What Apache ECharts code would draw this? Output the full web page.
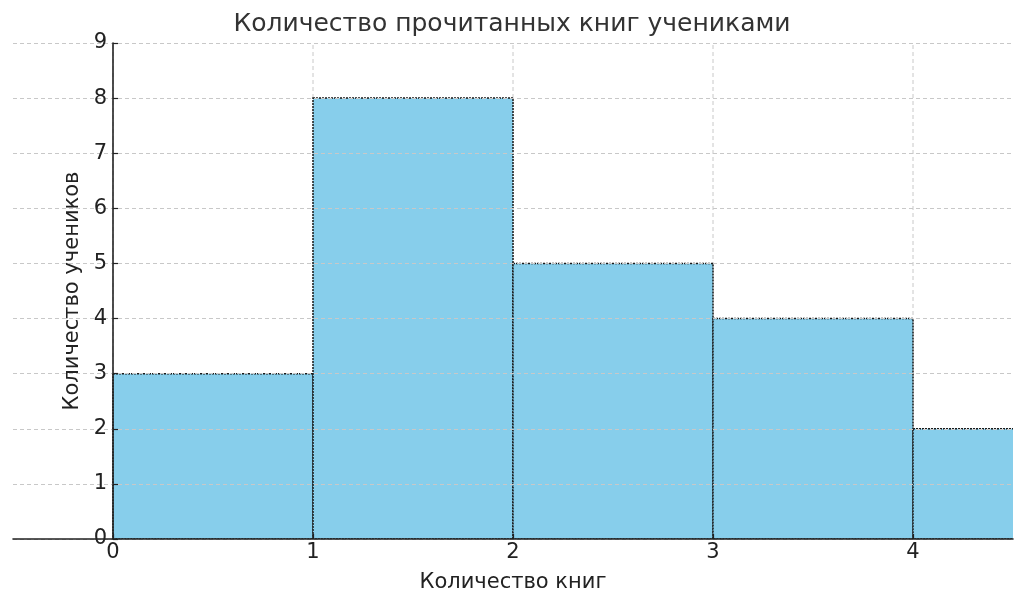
<!DOCTYPE html>
<html><head><meta charset="utf-8">
<script src="https://cdn.jsdelivr.net/npm/echarts@6/dist/echarts.min.js"></script>
<style>html,body{margin:0;padding:0;background:#fff}#c{width:1024px;height:608px}</style>
</head><body><div id="c"></div>
<script>
const binEdges = [0, 1, 2, 3, 4, 5];
const counts = [3, 8, 5, 4, 2];
const xTicks = [0, 1, 2, 3, 4];
const yTicks = [0, 1, 2, 3, 4, 5, 6, 7, 8, 9];
const titleText = 'Количество прочитанных книг учениками';
const xName = 'Количество книг';
const yName = 'Количество учеников';

const barData = counts.map((c, i) => [binEdges[i], binEdges[i + 1], c]);
const gridData = xTicks.map(v => [v]);
const font = 'DejaVu Sans';
const chart = echarts.init(document.getElementById('c'));
chart.setOption({
  animation: false,
  title: { text: titleText, left: 'center', top: 7, textStyle: { fontFamily: font, fontSize: 25, fontWeight: 'normal', color: '#333' } },
  grid: { left: 13, right: 11, top: 43, bottom: 69, outerBoundsMode: 'none', containLabel: false },
  xAxis: {
    type: 'value', min: -0.5, max: 4.5, z: 5,
    name: xName, nameLocation: 'middle', nameGap: 33,
    nameTextStyle: { fontFamily: font, fontSize: 21, color: '#222', verticalAlign: 'top' },
    axisLine: { onZero: false, lineStyle: { color: '#222', width: 1.6 } },
    axisTick: { show: true, inside: true, customValues: xTicks, length: 5, lineStyle: { color: '#222', width: 1.2 } },
    axisLabel: { customValues: xTicks, fontFamily: font, fontSize: 21, color: '#222', margin: 3 },
    splitLine: { show: false }
  },
  yAxis: {
    type: 'value', min: yTicks[0], max: yTicks[yTicks.length - 1], interval: 1, z: 5,
    offset: -100,
    name: yName, nameLocation: 'middle', nameGap: 26, nameRotate: 90,
    nameTextStyle: { fontFamily: font, fontSize: 21, color: '#222' },
    axisLine: { show: true, onZero: false, lineStyle: { color: '#222', width: 1.6 } },
    axisTick: { show: true, inside: true, length: 5, lineStyle: { color: '#222', width: 1.2 } },
    axisLabel: { fontFamily: font, fontSize: 21, color: '#222', margin: 6 },
    splitLine: { show: true, lineStyle: { color: '#c8c8c8', type: [4, 3], width: 1 } }
  },
  series: [
    {
      type: 'custom', silent: true, clip: true, z: 1,
      data: gridData,
      renderItem: function (params, api) {
        const p0 = api.coord([api.value(0), yTicks[0]]);
        const p1 = api.coord([api.value(0), yTicks[yTicks.length - 1]]);
        return { type: 'line', shape: { x1: p0[0], y1: p0[1], x2: p1[0], y2: p1[1] },
          style: { stroke: '#c8c8c8', lineWidth: 1, lineDash: [4, 3] } };
      }
    },
    {
      type: 'custom', clip: true, z: 2,
      data: barData,
      renderItem: function (params, api) {
        const a = api.coord([api.value(0), api.value(2)]);
        const b = api.coord([api.value(1), 0]);
        return { type: 'rect', shape: { x: a[0], y: a[1], width: b[0] - a[0], height: b[1] - a[1] },
          style: { fill: '#87CEEB', stroke: '#1a1a1a', lineWidth: 1.5, lineDash: [2, 1] } };
      }
    }
  ]
});
</script></body></html>
